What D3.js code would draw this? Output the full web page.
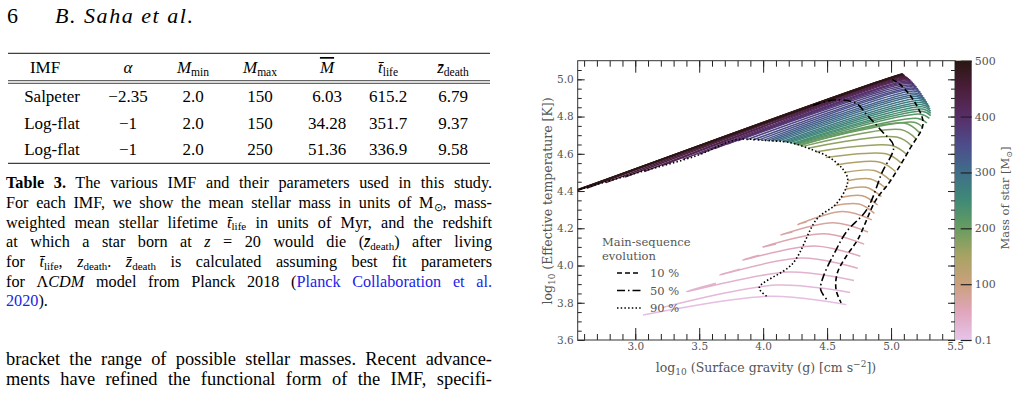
<!DOCTYPE html>
<html>
<head>
<meta charset="utf-8">
<script src="https://cdn.jsdelivr.net/npm/d3@7"></script>
<style>
  body { margin: 0; background: #fff; }
  svg text { font-family: "Liberation Serif", serif; }
  .chart text { font-family: "DejaVu Serif", serif; fill: #555; }
</style>
</head>
<body>
<svg id="page" width="1019" height="398"></svg>
<script>
// ---- table 3 ----
var imfNames = ['Salpeter', 'Log-flat', 'Log-flat'];
var imfAlpha = ['\u22122.35', '\u22121', '\u22121'];
var imfMmin = ['2.0', '2.0', '2.0'];
var imfMmax = ['150', '150', '250'];
var imfMeanM = ['6.03', '34.28', '51.36'];
var imfLife = ['615.2', '351.7', '336.9'];
var imfZdeath = ['6.79', '9.37', '9.58'];

// ---- stellar tracks (log g, log Teff) ----
var trackMass = [10, 20, 30, 40, 50, 60, 70, 80, 90, 100, 110, 120, 130, 140, 150, 160, 170,
  180, 190, 200, 210, 220, 230, 240, 250, 260, 270, 280, 290, 300, 310, 320, 330, 340, 350,
  360, 370, 380, 390, 400, 410, 420, 430, 440, 450, 460, 470, 480, 490, 500];
var zamsG = [4.65, 4.68, 4.71, 4.74, 4.76, 4.79, 4.82, 4.85,
  4.87, 4.895, 4.925, 4.96, 4.99, 5.035, 5.08, 5.125, 5.165, 5.195, 5.22,
  5.25, 5.28, 5.30, 5.31, 5.31, 5.31, 5.305, 5.30, 5.29, 5.28, 5.27, 5.26, 5.25, 5.24, 5.23,
  5.22, 5.21, 5.20, 5.19, 5.18, 5.17, 5.16, 5.15, 5.14, 5.13, 5.12, 5.11, 5.105, 5.10, 5.095, 5.09];
var zamsT = [3.79, 3.855, 3.92, 3.985, 4.05, 4.115, 4.18, 4.245,
  4.28, 4.325, 4.37, 4.415, 4.46, 4.505, 4.55, 4.595, 4.64, 4.68, 4.715,
  4.74, 4.765, 4.79, 4.805, 4.817, 4.829, 4.841, 4.853, 4.865, 4.876, 4.887, 4.898, 4.909, 4.92,
  4.93, 4.94, 4.949, 4.958, 4.966, 4.974, 4.982, 4.989, 4.996, 5.002, 5.008, 5.013, 5.018, 5.022,
  5.025, 5.028, 5.03];
var kneeG = [4.05, 4.10, 4.20, 4.30, 4.40, 4.48, 4.55, 4.62,
  4.75, 4.775, 4.805, 4.84, 4.87, 4.915, 4.96, 5.005, 5.045, 5.075, 5.10,
  5.18, 5.21, 5.23, 5.24, 5.245, 5.245, 5.24, 5.235, 5.225, 5.215, 5.205, 5.195, 5.185, 5.175,
  5.165, 5.155, 5.145, 5.135, 5.125, 5.115, 5.105, 5.095, 5.085, 5.075, 5.065, 5.06, 5.05, 5.045,
  5.04, 5.035, 5.02];
var kneeT = [3.835, 3.895, 3.965, 4.04, 4.105, 4.17, 4.23, 4.29,
  4.33, 4.375, 4.42, 4.465, 4.51, 4.555, 4.60, 4.645, 4.69, 4.73, 4.765,
  4.77, 4.79, 4.813, 4.828, 4.84, 4.852, 4.864, 4.875, 4.886, 4.897, 4.907, 4.917, 4.927, 4.937,
  4.946, 4.954, 4.962, 4.97, 4.977, 4.984, 4.99, 4.996, 5.001, 5.005, 5.009, 5.012, 5.015, 5.017,
  5.018, 5.018, 5.014];
var endG = [3.06, 3.21, 3.40, 3.66, 3.84, 4.00, 4.14, 4.27,
  4.55, 4.61, 4.645, 4.66, 4.635, 4.57, 4.49, 4.41, 4.35, 4.31, 4.29,
  4.28, 4.26, 4.25, 4.24, 4.23, 4.21, 4.19, 4.17, 4.15, 4.12, 4.09, 4.06, 4.03, 4.00,
  3.96, 3.92, 3.87, 3.80, 3.72, 3.62, 3.50, 3.37, 3.22, 3.07, 2.92, 2.77, 2.62, 2.50,
  2.45, 2.42, 2.40];
var endT = [3.734, 3.774, 3.86, 3.95, 4.03, 4.10, 4.165, 4.22,
  4.32, 4.365, 4.41, 4.455, 4.50, 4.54, 4.58, 4.61, 4.63, 4.64, 4.645,
  4.648, 4.65, 4.652, 4.654, 4.656, 4.66, 4.662, 4.664, 4.666, 4.668, 4.669, 4.67, 4.671, 4.672,
  4.673, 4.674, 4.675, 4.67, 4.652, 4.628, 4.598, 4.57, 4.54, 4.505, 4.475, 4.445, 4.415, 4.39,
  4.38, 4.375, 4.37];
// post main-sequence hooks of the low-mass tracks (null = none visible)
var hookG = [null, null, 3.63, 3.82, 3.97, 4.10, 4.23, 4.34];
var hookT = [null, null, 3.905, 3.98, 4.055, 4.115, 4.18, 4.235];

// main-sequence fractions
var ms10 = [[5.01, 5.00], [5.09, 4.96], [5.20, 4.86], [5.25, 4.76], [5.15, 4.63], [4.99, 4.45],
  [4.88, 4.35], [4.74, 4.14], [4.65, 4.05], [4.58, 3.96], [4.57, 3.87], [4.61, 3.80]];
var ms50 = [[4.39, 4.86], [4.57, 4.89], [4.73, 4.87], [4.81, 4.81], [4.93, 4.72], [5.02, 4.64],
  [4.93, 4.50], [4.81, 4.30], [4.65, 4.18], [4.56, 4.07], [4.47, 3.94], [4.45, 3.87], [4.50, 3.815]];
var ms90 = [[2.57, 4.41], [3.0, 4.495], [3.48, 4.59], [3.79, 4.675], [4.05, 4.67], [4.21, 4.66],
  [4.39, 4.62], [4.52, 4.58], [4.62, 4.52], [4.66, 4.47], [4.65, 4.42], [4.57, 4.33], [4.42, 4.25],
  [4.23, 4.01], [3.97, 3.88], [4.04, 3.83]];
var msLabels = ['10 %', '50 %', '90 %'];
var msDash = ['5,3', '8,3,1.5,3', '1.5,2.2'];

var xMajor = [3.0, 3.5, 4.0, 4.5, 5.0, 5.5];
var yMajor = [3.6, 3.8, 4.0, 4.2, 4.4, 4.6, 4.8, 5.0];
var cbarTicks = [0.1, 100, 200, 300, 400, 500];
var cbarStopMass = [0.1, 50, 100, 150, 200, 250, 300, 350, 400, 450, 500];
var cbarStopColor = ['#e6c4ea', '#e0a6bc', '#cba07c', '#a8a364', '#689d60', '#3f8a76', '#3f6e8a',
  '#4d4c8a', '#582e68', '#4a1e3a', '#2a1612'];

var svg = d3.select('#page');

// ---- page text ----
function addText(x, y, size, segs, width) {
  var t = svg.append('text').attr('x', x).attr('y', y).style('font-size', size + 'px');
  var shift = 0;
  segs.forEach(function(s) {
    var want = s.sub ? size * 0.18 : 0;
    var sp = t.append('tspan').text(s.t);
    if (want !== shift) { sp.attr('dy', want - shift); shift = want; }
    if (s.sub) sp.style('font-size', (size * 0.68) + 'px');
    if (s.i) sp.style('font-style', 'italic');
    if (s.b) sp.style('font-weight', 'bold');
    if (s.c) sp.attr('fill', s.c);
    if (s.o) sp.attr('text-decoration', 'overline');
  });
  if (width) {
    var natural = t.node().getComputedTextLength();
    var spaces = segs.map(function(s) { return s.t; }).join('').split(' ').length - 1;
    if (spaces > 0) t.attr('word-spacing', (width - natural) / spaces);
  }
  return t;
}

addText(7, 22.5, 22, [{t: '6'}]);
addText(55, 22.5, 22, [{t: 'B. Saha et al.', i: true}])
  .attr('textLength', 138).attr('lengthAdjust', 'spacing');

// table
var colX = [45, 128, 193, 260, 327, 388, 453];
var rowY = [101.5, 129.3, 155];
[53.3, 80.7, 83.3, 163.3].forEach(function(ry, i) {
  svg.append('line').attr('x1', 8).attr('x2', 490).attr('y1', ry).attr('y2', ry)
    .attr('stroke', '#111').attr('stroke-width', i === 1 || i === 2 ? 0.8 : 1);
});
var headers = [
  [{t: 'IMF'}],
  [{t: '\u03b1', i: true}],
  [{t: 'M', i: true}, {t: 'min', sub: true}],
  [{t: 'M', i: true}, {t: 'max', sub: true}],
  [{t: 'M', i: true, o: true}],
  [{t: 't\u0304', i: true}, {t: 'life', sub: true}],
  [{t: 'z\u0304', i: true}, {t: 'death', sub: true}]
];
headers.forEach(function(h, i) {
  addText(colX[i], 73, 17, h).attr('text-anchor', 'middle');
});
var cols = [imfNames, imfAlpha, imfMmin, imfMmax, imfMeanM, imfLife, imfZdeath];
cols.forEach(function(col, i) {
  col.forEach(function(v, r) {
    svg.append('text').attr('x', i === 0 ? 52 : colX[i]).attr('y', rowY[r])
      .attr('text-anchor', 'middle').style('font-size', '17px').text(v);
  });
});

// caption
var blue = '#2323e6';
var capY = [188.3, 208.3, 227.5, 247.3, 266.7, 286.7, 306];
var caption = [
  [{t: 'Table 3.', b: true}, {t: ' The various IMF and their parameters used in this study.'}],
  [{t: 'For each IMF, we show the mean stellar mass in units of M'}, {t: '\u2299', sub: true}, {t: ', mass-'}],
  [{t: 'weighted mean stellar lifetime '}, {t: 't\u0304', i: true}, {t: 'life', sub: true}, {t: ' in units of Myr, and the redshift'}],
  [{t: 'at which a star born at '}, {t: 'z', i: true}, {t: ' = 20 would die ('}, {t: 'z\u0304', i: true}, {t: 'death', sub: true}, {t: ') after living'}],
  [{t: 'for '}, {t: 't\u0304', i: true}, {t: 'life', sub: true}, {t: ', '}, {t: 'z', i: true}, {t: 'death', sub: true}, {t: '. '}, {t: 'z\u0304', i: true}, {t: 'death', sub: true}, {t: ' is calculated assuming best fit parameters'}],
  [{t: 'for \u039b'}, {t: 'CDM', i: true}, {t: ' model from Planck 2018 ('}, {t: 'Planck Collaboration et al.', c: blue}],
  [{t: '2020', c: blue}, {t: ').'}]
];
caption.forEach(function(segs, i) {
  addText(6, capY[i], 16.2, segs, i < caption.length - 1 ? 486 : 0);
});

var bodyLines = [
  'bracket the range of possible stellar masses. Recent advance-',
  'ments have refined the functional form of the IMF, specifi-'
];
bodyLines.forEach(function(s, i) {
  addText(6, 365 + i * 20, 18.4, [{t: s}], 486);
});

// ---- chart ----
var x = d3.scaleLinear().domain([2.55, 5.5]).range([577.7, 955]);
var y = d3.scaleLinear().domain([3.6, 5.1]).range([340, 60.7]);
var color = d3.scaleLinear().domain(cbarStopMass).range(cbarStopColor).interpolate(d3.interpolateRgb);
var cb = d3.scaleLinear().domain([0.1, 500]).range([340, 60.7]);

var chart = svg.append('g').attr('class', 'chart');
chart.append('clipPath').attr('id', 'plotclip').append('rect')
  .attr('x', x.range()[0]).attr('y', y.range()[1])
  .attr('width', x.range()[1] - x.range()[0]).attr('height', y.range()[0] - y.range()[1]);

var line = d3.line()
  .x(function(d) { return x(d[0]); })
  .y(function(d) { return y(d[1]); })
  .curve(d3.curveCatmullRom.alpha(0.5));

var tracks = trackMass.map(function(m, i) {
  var pts = [[endG[i], endT[i]], [kneeG[i], kneeT[i]], [zamsG[i], zamsT[i]]];
  if (hookG[i] != null) pts.unshift([hookG[i], hookT[i]]);
  return {mass: m, pts: pts};
});

var plot = chart.append('g').attr('clip-path', 'url(#plotclip)');
plot.selectAll('path.track')
  .data(tracks)
  .enter().append('path')
    .attr('class', 'track')
    .attr('d', function(d) { return line(d.pts); })
    .attr('fill', 'none')
    .attr('stroke', function(d) { return color(d.mass); })
    .attr('stroke-width', 1.5);

plot.selectAll('path.ms')
  .data([ms10, ms50, ms90])
  .enter().append('path')
    .attr('class', 'ms')
    .attr('d', line)
    .attr('fill', 'none')
    .attr('stroke', '#000')
    .attr('stroke-width', 1.6)
    .attr('stroke-dasharray', function(d, i) { return msDash[i]; });

// axes, ticks pointing inward
function styleAxis(g) {
  g.select('.domain').remove();
  g.selectAll('.tick line').attr('stroke', '#222');
  g.selectAll('.tick text').style('font-size', '10.5px');
}
var xMinor = d3.range(2.6, 5.5, 0.1);
var yMinor = d3.range(3.6, 5.1, 0.05);

chart.append('g').attr('transform', 'translate(0,340)')
  .call(d3.axisBottom(x).tickValues(xMinor).tickSizeInner(-6).tickSizeOuter(0).tickFormat(''))
  .call(styleAxis);
chart.append('g').attr('transform', 'translate(0,340)')
  .call(d3.axisBottom(x).tickValues(xMajor).tickSizeInner(-12).tickSizeOuter(0).tickPadding(3)
    .tickFormat(d3.format('.1f')))
  .call(styleAxis);
chart.append('g').attr('transform', 'translate(0,60.7)')
  .call(d3.axisTop(x).tickValues(xMinor).tickSizeInner(-6).tickSizeOuter(0).tickFormat(''))
  .call(styleAxis);
chart.append('g').attr('transform', 'translate(0,60.7)')
  .call(d3.axisTop(x).tickValues(xMajor).tickSizeInner(-12).tickSizeOuter(0).tickFormat(''))
  .call(styleAxis);
chart.append('g').attr('transform', 'translate(577.7,0)')
  .call(d3.axisLeft(y).tickValues(yMinor).tickSizeInner(-4).tickSizeOuter(0).tickFormat(''))
  .call(styleAxis);
chart.append('g').attr('transform', 'translate(577.7,0)')
  .call(d3.axisLeft(y).tickValues(yMajor).tickSizeInner(-7).tickSizeOuter(0).tickPadding(4)
    .tickFormat(d3.format('.1f')))
  .call(styleAxis);
chart.append('g').attr('transform', 'translate(955,0)')
  .call(d3.axisRight(y).tickValues(yMinor).tickSizeInner(-4).tickSizeOuter(0).tickFormat(''))
  .call(styleAxis);
chart.append('g').attr('transform', 'translate(955,0)')
  .call(d3.axisRight(y).tickValues(yMajor).tickSizeInner(-7).tickSizeOuter(0).tickFormat(''))
  .call(styleAxis);

chart.append('rect')
  .attr('x', 577.7).attr('y', 60.7).attr('width', 955 - 577.7).attr('height', 340 - 60.7)
  .attr('fill', 'none').attr('stroke', '#333').attr('stroke-width', 1);

// axis labels
var yl = chart.append('text').attr('transform', 'translate(552,201) rotate(-90)')
  .attr('text-anchor', 'middle').style('font-size', '12.5px');
yl.append('tspan').text('log');
yl.append('tspan').attr('dy', 3).style('font-size', '9px').text('10');
yl.append('tspan').attr('dy', -3).text(' (Effective temperature  [K])');

var xl = chart.append('text').attr('x', 766).attr('y', 371.5)
  .attr('text-anchor', 'middle').style('font-size', '12.5px');
xl.append('tspan').text('log');
xl.append('tspan').attr('dy', 3).style('font-size', '9px').text('10');
xl.append('tspan').attr('dy', -3).text(' (Surface gravity (g)  [cm s');
xl.append('tspan').attr('dy', -5).style('font-size', '9px').text('\u22122');
xl.append('tspan').attr('dy', 5).text('])');

// legend
var lg = chart.append('g');
lg.append('text').attr('x', 602).attr('y', 246).style('font-size', '11.5px').text('Main-sequence');
lg.append('text').attr('x', 602).attr('y', 260).style('font-size', '11.5px').text('evolution');
msLabels.forEach(function(lab, i) {
  var ly = 273 + i * 17.5;
  lg.append('line').attr('x1', 617).attr('x2', 641).attr('y1', ly).attr('y2', ly)
    .attr('stroke', '#000').attr('stroke-width', 1.6).attr('stroke-dasharray', msDash[i]);
  lg.append('text').attr('x', 650).attr('y', ly + 4).style('font-size', '11.5px').text(lab);
});

// colorbar
var grad = chart.append('linearGradient').attr('id', 'cbgrad')
  .attr('x1', 0).attr('y1', 1).attr('x2', 0).attr('y2', 0);
grad.selectAll('stop').data(cbarStopMass).enter().append('stop')
  .attr('offset', function(d) { return (d - 0.1) / (500 - 0.1); })
  .attr('stop-color', function(d) { return color(d); });
chart.append('rect').attr('x', 955).attr('y', 60.7).attr('width', 16.7).attr('height', 340 - 60.7)
  .attr('fill', 'url(#cbgrad)');
var cbAxis = chart.append('g').attr('transform', 'translate(971.7,0)')
  .call(d3.axisRight(cb).tickValues(cbarTicks).tickSizeInner(-11).tickSizeOuter(0).tickPadding(3)
    .tickFormat(function(d) { return d < 1 ? '0.1' : d3.format('d')(d); }))
  .call(styleAxis);
cbAxis.selectAll('.tick text').style('font-size', '11px');
cbAxis.selectAll('.tick line').attr('stroke-width', 1.2);

var cl = chart.append('text').attr('transform', 'translate(1009,198) rotate(-90)')
  .attr('text-anchor', 'middle').style('font-size', '11.5px');
cl.append('tspan').text('Mass of star [M');
cl.append('tspan').attr('dy', 3).style('font-size', '8px').text('\u2299');
cl.append('tspan').attr('dy', -3).text(']');
</script>
</body>
</html>
